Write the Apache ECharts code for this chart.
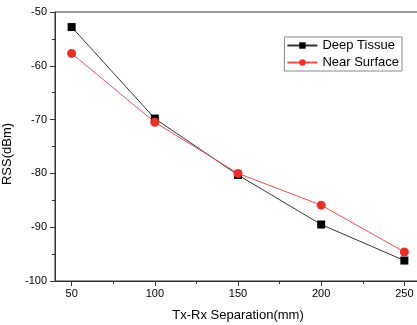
<!DOCTYPE html>
<html><head><meta charset="utf-8">
<script src="https://cdn.jsdelivr.net/npm/echarts@6/dist/echarts.min.js"></script>
<style>html,body{margin:0;padding:0;background:#fff}#c{width:417px;height:325px}</style>
</head><body><div id="c"></div>
<script>
var separation = [50, 100, 150, 200, 250];
var deepTissue = [-52.8, -69.8, -80.3, -89.5, -96.2];
var nearSurface = [-57.7, -70.5, -80.0, -85.9, -94.6];
var xMajorTicks = [50, 100, 150, 200, 250];
var xMinorTicks = [75, 125, 175, 225];

var chart = echarts.init(document.getElementById('c'));
var font = 'Liberation Sans, Arial, sans-serif';
chart.setOption({
  animation: false,
  textStyle: {fontFamily: font},
  grid: {left: 55, right: -4, top: 12, bottom: 44, containLabel: false, outerBoundsMode: 'none', show: true, borderColor: '#333', borderWidth: 1},
  legend: {
    right: 15, top: 37, orient: 'vertical', itemWidth: 30, itemHeight: 8, itemGap: 4,
    borderColor: '#888', borderWidth: 1, padding: [2, 3, 2, 2], borderRadius: 0,
    textStyle: {fontSize: 13, color: '#000', fontFamily: font}
  },
  xAxis: [{
    type: 'value', min: 40, max: 260, name: 'Tx-Rx Separation(mm)', nameLocation: 'middle', nameGap: 28,
    nameTextStyle: {fontSize: 13, color: '#000'},
    axisLine: {lineStyle: {color: '#333'}},
    axisTick: {length: 5, customValues: xMajorTicks, lineStyle: {color: '#333'}},
    axisLabel: {customValues: xMajorTicks, fontSize: 11, color: '#000', margin: 7},
    splitLine: {show: false}
  }, {
    type: 'value', min: 40, max: 260, position: 'bottom',
    axisLine: {show: false},
    axisTick: {length: 3, customValues: xMinorTicks, lineStyle: {color: '#333'}},
    axisLabel: {show: false}, splitLine: {show: false}
  }],
  yAxis: {
    type: 'value', min: -100, max: -50, interval: 10, name: 'RSS(dBm)', nameLocation: 'middle', nameGap: 34,
    nameTextStyle: {fontSize: 13, color: '#000', padding: [0, 15, 0, 0]},
    axisLine: {show: true, lineStyle: {color: '#333'}},
    axisTick: {show: true, length: 5, lineStyle: {color: '#333'}},
    minorTick: {show: true, splitNumber: 2, length: 3, lineStyle: {color: '#333'}},
    axisLabel: {fontSize: 11, color: '#000', margin: 8},
    splitLine: {show: false}
  },
  series: [{
    name: 'Deep Tissue', type: 'line', data: separation.map(function (x, i) { return [x, deepTissue[i]]; }),
    symbol: 'rect', symbolSize: 8, lineStyle: {color: '#333', width: 1}, itemStyle: {color: '#000'}
  }, {
    name: 'Near Surface', type: 'line', data: separation.map(function (x, i) { return [x, nearSurface[i]]; }),
    symbol: 'circle', symbolSize: 9, lineStyle: {color: '#f05050', width: 1}, itemStyle: {color: '#e8302a'}
  }]
});
</script></body></html>
